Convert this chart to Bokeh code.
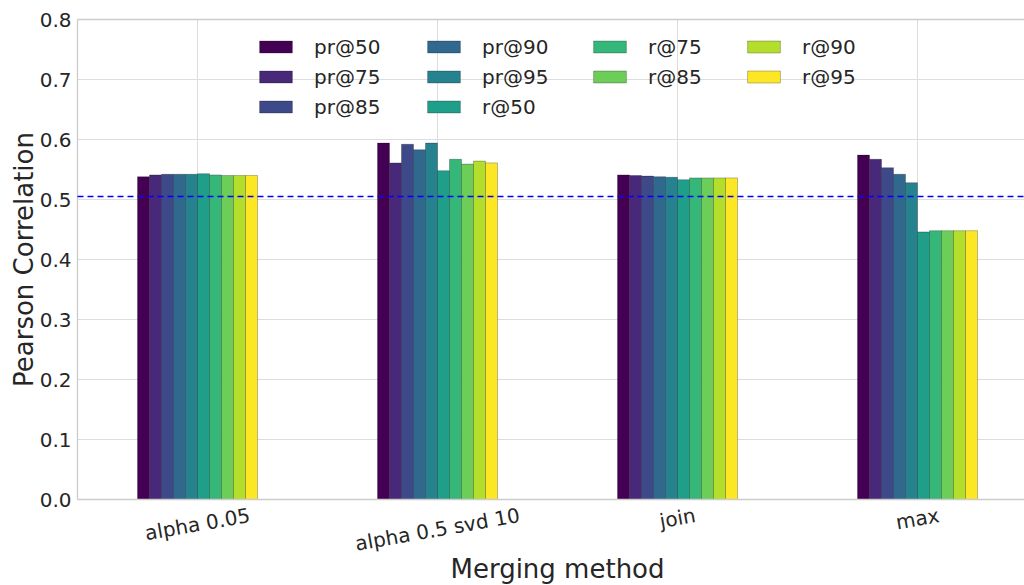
import math
from bokeh.plotting import figure
from bokeh.models import ColumnDataSource, Legend, LegendItem, Range1d
from bokeh.core.properties import value
from bokeh.transform import dodge
from bokeh.embed import file_html
from bokeh.resources import INLINE

# ---- data ----
categories = ["alpha 0.05", "alpha 0.5 svd 10", "join", "max"]
series_names = ["pr@50", "pr@75", "pr@85", "pr@90", "pr@95",
                "r@50", "r@75", "r@85", "r@90", "r@95"]
pr50 = [0.538, 0.594, 0.541, 0.574]
pr75 = [0.541, 0.561, 0.540, 0.567]
pr85 = [0.542, 0.592, 0.539, 0.553]
pr90 = [0.542, 0.583, 0.538, 0.542]
pr95 = [0.542, 0.594, 0.537, 0.528]
r50 = [0.543, 0.548, 0.533, 0.446]
r75 = [0.541, 0.567, 0.536, 0.448]
r85 = [0.540, 0.559, 0.536, 0.448]
r90 = [0.540, 0.564, 0.536, 0.448]
r95 = [0.540, 0.561, 0.536, 0.448]
series_values = [pr50, pr75, pr85, pr90, pr95, r50, r75, r85, r90, r95]
baseline = 0.505
y_ticks = [0.0, 0.1, 0.2, 0.3, 0.4, 0.5, 0.6, 0.7, 0.8]
y_tick_labels = ["0.0", "0.1", "0.2", "0.3", "0.4", "0.5", "0.6", "0.7", "0.8"]
x_title = "Merging method"
y_title = "Pearson Correlation"

colors = ['#440154', '#482878', '#3E4989', '#31688E', '#26828E',
          '#1F9E89', '#35B779', '#6DCD59', '#B4DE2C', '#FDE725']

FONT = "DejaVu Sans"
TXT = "#262626"
GRID = "#dddddd"
SPINE = "#cccccc"

# ---- layout numbers (pixels) ----
W, H = 1024, 585
left_px, top_px = 77, 19          # where the axes box starts
plot_h = 480                      # height of the 0 .. 0.8 area
px_per_x = 240.0
y_lo, y_hi = y_ticks[0], y_ticks[-1]
px_per_y = plot_h / (y_hi - y_lo)
ax_left = -0.5                    # data x of the left spine
x_start = ax_left - left_px / px_per_x
x_end = x_start + W / px_per_x
y_start = y_hi - (H - top_px) / px_per_y
y_end = y_hi + top_px / px_per_y


def sx(px):   # screen pixel -> data x
    return x_start + px / px_per_x


def sy(py):   # screen pixel -> data y
    return y_end - py / px_per_y


data = {"x": list(range(len(categories)))}
for n, v in zip(series_names, series_values):
    data[n] = v
source = ColumnDataSource(data)

p = figure(width=W, height=H, output_backend="svg", toolbar_location=None,
           x_range=Range1d(x_start, x_end), y_range=Range1d(y_start, y_end),
           x_axis_location=None, y_axis_location=None,
           min_border_left=0, min_border_right=0,
           min_border_top=0, min_border_bottom=0)
p.background_fill_color = "white"
p.border_fill_color = "white"
p.outline_line_color = None
p.xgrid.visible = False
p.ygrid.visible = False

# grid lines inside the axes box
cat_idx = list(range(len(categories)))
nt = len(y_ticks)
p.segment(x0=[ax_left] * nt, y0=y_ticks, x1=[x_end] * nt, y1=y_ticks,
          line_color=GRID, line_width=1)
p.segment(x0=cat_idx, y0=[y_lo] * len(cat_idx), x1=cat_idx, y1=[y_hi] * len(cat_idx),
          line_color=GRID, line_width=1)

bar_w = 0.05
n = len(series_names)
renderers = []
for j, (name, col) in enumerate(zip(series_names, colors)):
    off = (j - (n - 1) / 2) * bar_w
    r = p.vbar(x=dodge("x", off, range=p.x_range), top=name, width=bar_w,
               source=source, fill_color=col, line_color="#000000",
               line_alpha=0.25, line_width=1)
    renderers.append(r)

# spines (left, bottom, top)
p.segment(x0=[ax_left, ax_left, ax_left], y0=[y_lo, y_lo, y_hi],
          x1=[ax_left, x_end, x_end], y1=[y_hi, y_lo, y_hi],
          line_color=SPINE, line_width=1.3)

# reference line
p.segment(x0=[ax_left], y0=[baseline], x1=[x_end], y1=[baseline],
          line_color="#0000ff", line_dash="6 4", line_width=1.6)

# y tick labels and y title
p.text(x=[sx(71)] * nt, y=y_ticks, text=y_tick_labels, text_align="right",
       text_baseline="middle", text_font=value(FONT), text_font_size=value("20px"),
       text_color=TXT)
p.text(x=[sx(23)], y=[(y_lo + y_hi) / 2], text=[y_title], angle=math.pi / 2,
       text_align="center", text_baseline="middle", text_font=value(FONT),
       text_font_size=value("26px"), text_color=TXT)

# category labels (rotated 10 deg, centred under each group) and x title
cw = {'a': .613, 'l': .278, 'p': .635, 'h': .634, ' ': .318, '0': .636, '.': .318,
      '5': .636, 's': .521, 'v': .592, 'd': .635, '1': .636, 'j': .278, 'o': .612,
      'i': .278, 'n': .634, 'm': .974, 'x': .592}
ang = math.radians(10)
lab_y = []
for c in categories:
    w = sum(cw.get(ch, 0.6) for ch in c) * 20
    off_px = 6 + (w * math.sin(ang) + 19) / 2
    lab_y.append(y_lo - off_px / px_per_y)
lab_src = ColumnDataSource(dict(x=cat_idx, y=lab_y, t=categories))
p.text(x="x", y="y", text="t", source=lab_src, angle=ang, text_align="center",
       text_baseline="middle", text_font=value(FONT), text_font_size=value("20px"),
       text_color=TXT)
p.text(x=[(ax_left + cat_idx[-1] + 0.5) / 2], y=[y_lo - 69 / px_per_y], text=[x_title],
       text_align="center", text_baseline="middle", text_font=value(FONT),
       text_font_size=value("26px"), text_color=TXT)

# ---- legends: 4 columns (3,3,2,2) ----
cols = [[0, 1, 2], [3, 4, 5], [6, 7], [8, 9]]
col_x = [255, 423, 589, 743]       # screen x of each column's swatch
item_h, spacing = 24, 6
first_center = 46.7                # screen y of the first row
for idxs, lx in zip(cols, col_x):
    items = [LegendItem(label=series_names[i], renderers=[renderers[i]]) for i in idxs]
    hgt = len(idxs) * item_h + (len(idxs) - 1) * spacing
    ly = H - (first_center - item_h / 2) - hgt
    lg = Legend(items=items, location=(lx, ly), orientation="vertical",
                glyph_width=41, glyph_height=15, label_height=item_h,
                label_standoff=18, spacing=spacing, padding=0, margin=0,
                label_text_font=FONT, label_text_font_size="20px",
                label_text_color=TXT, background_fill_alpha=0,
                border_line_alpha=0)
    p.add_layout(lg, "center")

open("out.html", "w").write(file_html(p, INLINE))
